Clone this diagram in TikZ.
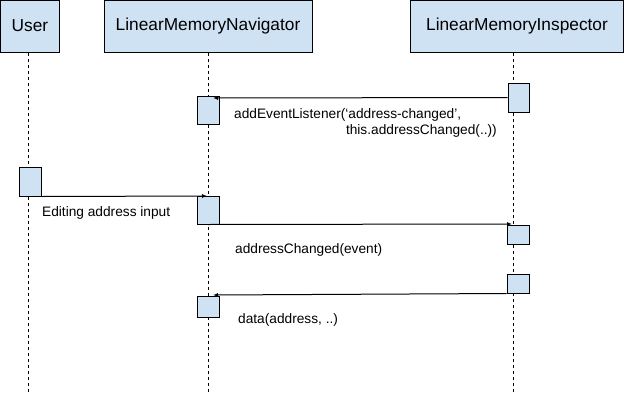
\documentclass[tikz,border=0pt]{standalone}
\usepackage{fontspec}
\setmainfont{Liberation Sans}
\usetikzlibrary{arrows.meta}
\definecolor{boxblue}{HTML}{CFE2F3}
\begin{document}
\begin{tikzpicture}[x=1pt,y=-1pt,
  head/.style={draw, fill=boxblue, font=\fontsize{17.3}{20}\selectfont, inner sep=0pt, line width=1pt, minimum height=52pt},
  act/.style={draw, fill=boxblue, inner sep=0pt, line width=1pt},
  life/.style={dash pattern=on 3pt off 3pt, line width=1pt},
  msg/.style={-{Latex[length=5pt,width=4pt]}, line width=1pt},
  lbl/.style={font=\fontsize{13.7}{16}\selectfont, inner sep=0pt}]
\useasboundingbox (0,0) rectangle (624,394);
% headers
\node[head, minimum width=59pt] (user) at (30,26) {User};
\node[head, minimum width=208pt] (nav) at (208,26) {LinearMemoryNavigator};
\node[head, minimum width=213pt] (insp) at (517,26) {LinearMemoryInspector};
% lifelines
\coordinate (ue) at (28.5,394);
\coordinate (ne) at (208,394);
\coordinate (ie) at (513,394);
\draw[life] (user.south -| ue) -- (ue);
\draw[life] (nav.south -| ne) -- (ne);
\draw[life] (insp.south -| ie) -- (ie);
% activations
\node[act, minimum width=22pt, minimum height=29pt] (ua1) at (30,181.5) {};
\node[act, minimum width=22pt, minimum height=28pt] (na1) at (208,110) {};
\node[act, minimum width=22pt, minimum height=28pt] (na2) at (208,210) {};
\node[act, minimum width=22pt, minimum height=21pt] (na3) at (208,306.5) {};
\node[act, minimum width=21pt, minimum height=29pt] (ia1) at (518.5,97.5) {};
\node[act, minimum width=22pt, minimum height=19pt] (ia2) at (518,234.5) {};
\node[act, minimum width=22pt, minimum height=19pt] (ia3) at (518,283.5) {};
% message tips
\coordinate (t1) at (213,98);
\coordinate (t2) at (207,196);
\coordinate (t3) at (512,224);
\coordinate (t4) at (213,295);
\draw[msg] (ia1.west) -- (t1);
\draw[msg] (ua1.south east) -- (t2);
\draw[msg] (na2.south) -- (t3);
\draw[msg] (ia3.south west) -- (t4);
% labels
\node[lbl, anchor=west] (l1a) at (234,115) {addEventListener(‘address-changed’,};
\node[lbl, anchor=east] (l1b) at (497,131) {this.addressChanged(..))};
\node[lbl, anchor=west] (l2) at (42,213) {Editing address input};
\node[lbl, anchor=west] (l3) at (235,250) {addressChanged(event)};
\node[lbl, anchor=west] (l4) at (238,320) {data(address, ..)};
\end{tikzpicture}
\end{document}
